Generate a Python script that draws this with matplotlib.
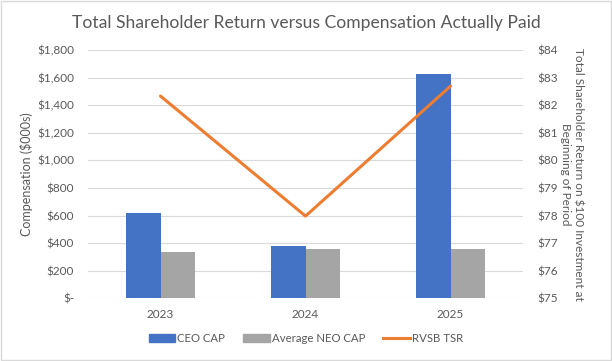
import matplotlib.pyplot as plt
import numpy as np
from matplotlib.patches import Patch, Rectangle
from matplotlib.lines import Line2D
from matplotlib.ticker import FuncFormatter, MultipleLocator

years = ['2023', '2024', '2025']
ceo_cap = [620, 381, 1628]
neo_cap = [338, 360, 360]
rvsb_tsr = [82.33, 77.98, 82.69]

BLUE = '#4472C4'
GRAY = '#A5A5A5'
ORANGE = '#ED7D31'
TEXT = '#595959'

plt.rcParams['font.family'] = ['Lato', 'DejaVu Sans']
plt.rcParams['text.parse_math'] = False


def money(v, pos):
    if v == 0:
        return '$-'
    return f'${v:,.0f}'


fig = plt.figure(figsize=(6.12, 3.61), dpi=100)
ax = fig.add_axes([0.1438, 0.1737, 0.7108, 0.6878])
ax2 = ax.twinx()

x = np.arange(len(years))
w = 0.235
ax.bar(x - w / 2, ceo_cap, w, color=BLUE, zorder=2)
ax.bar(x + w / 2, neo_cap, w, color=GRAY, zorder=2)
ax2.plot(x, rvsb_tsr, color=ORANGE, lw=2.2, solid_capstyle='round', zorder=3)

ax.set_xlim(-0.5, 2.5)
ax.set_ylim(0, 1800)
ax.yaxis.set_major_locator(MultipleLocator(200))
ax.yaxis.set_major_formatter(FuncFormatter(money))
ax2.set_ylim(75, 84)
ax2.yaxis.set_major_locator(MultipleLocator(1))
ax2.yaxis.set_major_formatter(FuncFormatter(lambda v, p: f'${v:.0f}'))

ax.set_xticks(x)
ax.set_xticklabels(years)
ax.grid(axis='y', color='#D9D9D9', lw=0.8, zorder=0)
ax.set_axisbelow(True)

for a in (ax, ax2):
    for s in a.spines.values():
        s.set_visible(False)
    a.tick_params(length=0, colors=TEXT, labelsize=8.5)
ax.tick_params(axis='y', pad=10)
ax2.tick_params(axis='y', pad=10)
ax.tick_params(axis='x', pad=8)

ax.set_ylabel('Compensation ($000s)', color=TEXT, fontsize=9, labelpad=3)
ax2.set_ylabel('Total Shareholder Return on $100 Investment at\nBeginning of Period',
               color=TEXT, fontsize=8.5, rotation=-90, labelpad=19, linespacing=1.25)

fig.text(0.5, 0.935, 'Total Shareholder Return versus Compensation Actually Paid',
         ha='center', va='center', color=TEXT, fontsize=12.6)

handles = [Patch(color=BLUE), Patch(color=GRAY), Line2D([0], [0], color=ORANGE, lw=2.2)]
fig.legend(handles, ['CEO CAP', 'Average NEO CAP', 'RVSB TSR'], loc='center',
           bbox_to_anchor=(0.5, 0.062), ncol=3, frameon=False, fontsize=8.2,
           labelcolor=TEXT, handlelength=2.3, handleheight=0.6, handletextpad=0.2,
           columnspacing=1.6)

fig.patches.append(Rectangle((0.002, 0.003), 0.996, 0.994, transform=fig.transFigure,
                             fill=False, edgecolor='#D9D9D9', lw=1))

fig.savefig('out.png', dpi=100)
